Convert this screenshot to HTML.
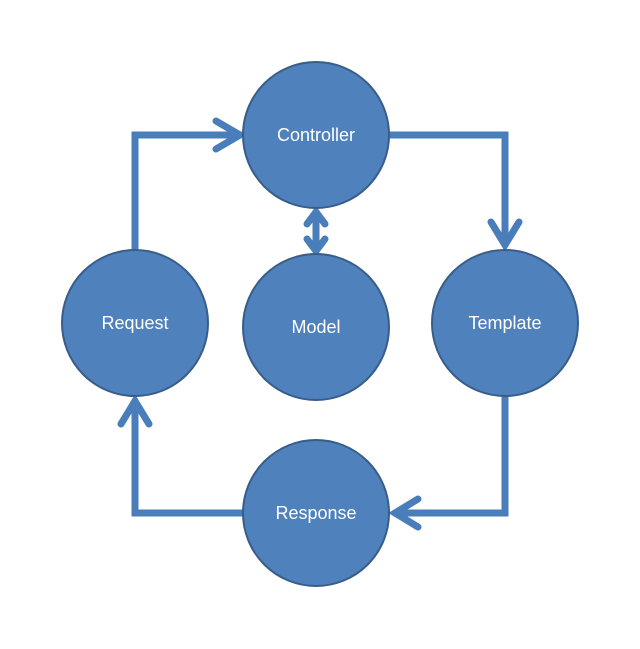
<!DOCTYPE html>
<html><head><meta charset="utf-8"><style>
html,body{margin:0;padding:0;background:#fff;}
svg{display:block}
text{font-family:"Liberation Sans",sans-serif;font-size:18px;fill:#fff;text-anchor:middle;dominant-baseline:central}
</style></head><body>
<svg width="640" height="649" viewBox="0 0 640 649">
<g fill="none" stroke="#4a7ebb" stroke-width="7" stroke-linecap="round" stroke-linejoin="miter">
  <polyline points="135,251 135,135 240,135"/>
  <polyline points="216,121 240,135 216,149"/>
  <polyline points="389,135 505,135 505,245"/>
  <polyline points="491,222 505,245 519,222"/>
  <polyline points="505,396 505,513 395,513"/>
  <polyline points="418,499 395,513 418,527"/>
  <polyline points="244,513 135,513 135,401"/>
  <polyline points="121,424 135,401 149,424"/>
  <line x1="316" y1="212" x2="316" y2="251"/>
  <polyline points="307,224 316,212 325,224"/>
  <polyline points="307,239 316,251 325,239"/>
</g>
<g fill="#4f81bd" stroke="#385d8a" stroke-width="2">
  <circle cx="316" cy="135" r="73"/>
  <circle cx="135" cy="323" r="73"/>
  <circle cx="316" cy="327" r="73"/>
  <circle cx="505" cy="323" r="73"/>
  <circle cx="316" cy="513" r="73"/>
</g>
<text x="316" y="135">Controller</text>
<text x="135" y="323">Request</text>
<text x="316" y="327">Model</text>
<text x="505" y="323">Template</text>
<text x="316" y="513">Response</text>
</svg>
</body></html>
